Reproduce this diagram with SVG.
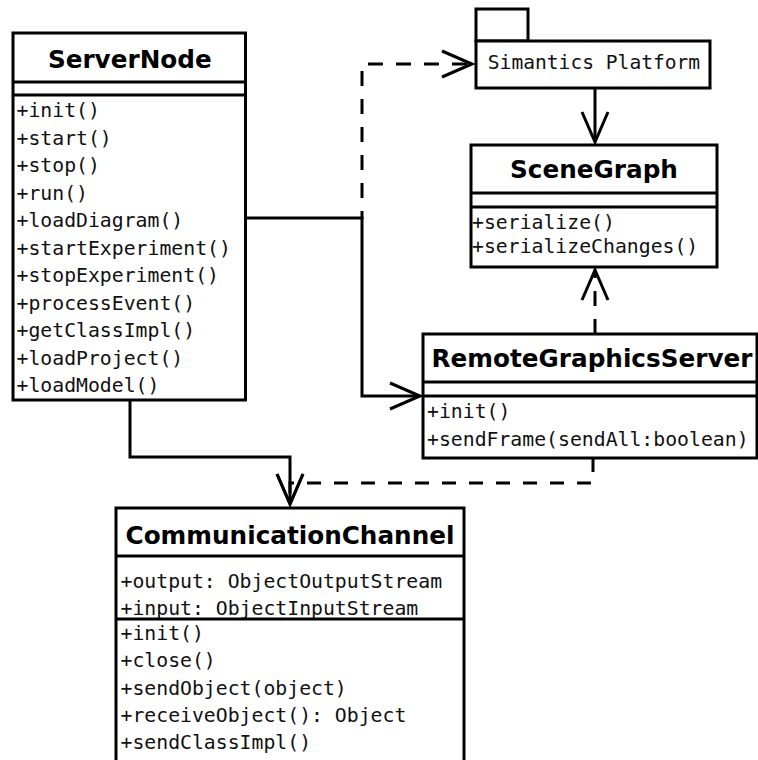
<svg xmlns="http://www.w3.org/2000/svg" width="758" height="760" viewBox="0 0 758 760">
  <style>
    .box { fill: #fff; stroke: #000; stroke-width: 3; }
    .sep { stroke: #000; stroke-width: 3; }
    .title { font-family: "DejaVu Sans", "Liberation Sans", sans-serif; font-weight: bold; font-size: 24.7px; text-anchor: middle; fill: #000; }
    .member { font-family: "DejaVu Sans Mono", "Liberation Mono", monospace; font-size: 19.8px; fill: #111; }
    .pkg { font-family: "DejaVu Sans Mono", "Liberation Mono", monospace; font-size: 19.6px; fill: #111; text-anchor: middle; }
    .conn { fill: none; stroke: #000; stroke-width: 3; }
    .dash { stroke-dasharray: 15 13; }
  </style>
  <defs>
    <!-- open "V" arrowhead shared by every connector -->
    <marker id="open" markerUnits="userSpaceOnUse" viewBox="-34 -16 38 32" refX="0" refY="0" markerWidth="38" markerHeight="32" orient="auto">
      <path d="M-30,-13 L0,0 L-30,13" fill="none" stroke="#000" stroke-width="3" stroke-dasharray="none"/>
    </marker>
  </defs>

  <!-- connectors -->
  <g id="connectors">
    <path class="conn" d="M245.5,218 H362 V396 H420" marker-end="url(#open)"/>
    <path class="conn" d="M130,400 V457 H290 V504" marker-end="url(#open)"/>
    <path class="conn dash" style="stroke-dashoffset:7" d="M362,219 V64 H472" marker-end="url(#open)"/>
    <path class="conn" d="M595,88 V142" marker-end="url(#open)"/>
    <path class="conn dash" d="M595,334 V270" marker-end="url(#open)"/>
    <path class="conn" style="stroke-dasharray:14 13" d="M593,458 V483 H290 V504" marker-end="url(#open)"/>
  </g>

  <!-- ServerNode class -->
  <g id="ServerNode">
    <rect class="box" x="13" y="33" width="232.5" height="367"/>
    <line class="sep" x1="13" y1="82" x2="245.5" y2="82"/>
    <line class="sep" x1="13" y1="95" x2="245.5" y2="95"/>
    <text class="title" x="129.8" y="67.5">ServerNode</text>
    <text class="member" x="16.5" y="117">+init()</text>
    <text class="member" x="16.5" y="144.5">+start()</text>
    <text class="member" x="16.5" y="172">+stop()</text>
    <text class="member" x="16.5" y="199.5">+run()</text>
    <text class="member" x="16.5" y="227">+loadDiagram()</text>
    <text class="member" x="16.5" y="254.5">+startExperiment()</text>
    <text class="member" x="16.5" y="282">+stopExperiment()</text>
    <text class="member" x="16.5" y="309.5">+processEvent()</text>
    <text class="member" x="16.5" y="337">+getClassImpl()</text>
    <text class="member" x="16.5" y="364.5">+loadProject()</text>
    <text class="member" x="16.5" y="392">+loadModel()</text>
  </g>

  <!-- Simantics Platform package -->
  <g id="SimanticsPlatform">
    <rect class="box" x="476" y="9" width="52" height="32"/>
    <rect class="box" x="476" y="41" width="234" height="47"/>
    <text class="pkg" x="594" y="69">Simantics Platform</text>
  </g>

  <!-- SceneGraph class -->
  <g id="SceneGraph">
    <rect class="box" x="471" y="145" width="246" height="122"/>
    <line class="sep" x1="471" y1="193" x2="717" y2="193"/>
    <line class="sep" x1="471" y1="207" x2="717" y2="207"/>
    <text class="title" x="594" y="178">SceneGraph</text>
    <text class="member" x="472" y="228.5">+serialize()</text>
    <text class="member" x="472" y="253">+serializeChanges()</text>
  </g>

  <!-- RemoteGraphicsServer class -->
  <g id="RemoteGraphicsServer">
    <rect class="box" x="423" y="334" width="334" height="124"/>
    <line class="sep" x1="423" y1="382" x2="757" y2="382"/>
    <line class="sep" x1="423" y1="396" x2="757" y2="396"/>
    <text class="title" x="592" y="367">RemoteGraphicsServer</text>
    <text class="member" x="427" y="418">+init()</text>
    <text class="member" x="427" y="446">+sendFrame(sendAll:boolean)</text>
  </g>

  <!-- CommunicationChannel class -->
  <g id="CommunicationChannel">
    <rect class="box" x="116" y="508" width="348" height="270"/>
    <line class="sep" x1="116" y1="556" x2="464" y2="556"/>
    <text class="title" x="290" y="544">CommunicationChannel</text>
    <text class="member" x="120.5" y="588">+output: ObjectOutputStream</text>
    <text class="member" x="120.5" y="615">+input: ObjectInputStream</text>
    <line class="sep" x1="116" y1="619" x2="464" y2="619"/>
    <text class="member" x="120.5" y="640">+init()</text>
    <text class="member" x="120.5" y="667.3">+close()</text>
    <text class="member" x="120.5" y="694.6">+sendObject(object)</text>
    <text class="member" x="120.5" y="721.9">+receiveObject(): Object</text>
    <text class="member" x="120.5" y="749.2">+sendClassImpl()</text>
  </g>
</svg>
